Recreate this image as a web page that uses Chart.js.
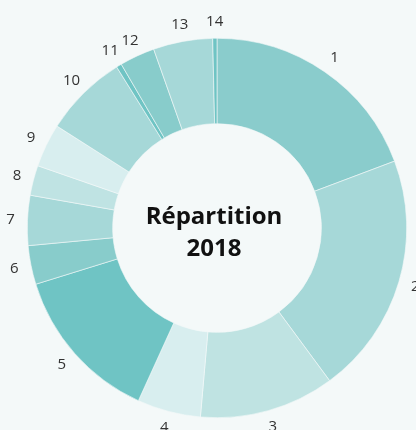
<!DOCTYPE html>
<html>
<head>
<meta charset="utf-8">
<script src="https://cdn.jsdelivr.net/npm/chart.js@4.4.1/dist/chart.umd.min.js"></script>
<style>
  html, body { margin: 0; padding: 0; background: #f4f9f9; }
  #wrap { width: 416px; height: 430px; }
</style>
</head>
<body>
<div id="wrap"><canvas id="repChart" width="416" height="430"></canvas></div>
<script>
// Data (share of the ring, in %)
const categories = ['1', '2', '3', '4', '5', '6', '7', '8', '9', '10', '11', '12', '13', '14'];
const shares = [19.25, 20.6, 11.5, 5.4, 13.4, 3.3, 4.25, 2.55, 3.7, 7.1, 0.45, 3.0, 5.05, 0.36];
const sliceColors = [
  '#8acccc', '#a6d8d8', '#bfe3e2', '#d8eeef', '#6fc4c4', '#88cccb', '#a6d8d8',
  '#bfe3e3', '#d8eeef', '#a6d8d8', '#6fc4c4', '#88cccb', '#a6d8d8', '#6fc4c4'
];
const centerLines = ['Répartition', '2018'];

// Category number drawn just outside each slice
const outsideLabels = {
  id: 'outsideLabels',
  afterDatasetsDraw(chart) {
    const ctx = chart.ctx;
    const arcs = chart.getDatasetMeta(0).data;
    ctx.save();
    ctx.font = '15px "Open Sans", "Noto Sans", sans-serif';
    ctx.fillStyle = '#333333';
    ctx.textAlign = 'center';
    ctx.textBaseline = 'middle';
    arcs.forEach((arc, i) => {
      const mid = (arc.startAngle + arc.endAngle) / 2;
      const r = arc.outerRadius + 17;
      ctx.fillText(chart.data.labels[i], arc.x + Math.cos(mid) * r, arc.y + Math.sin(mid) * r);
    });
    ctx.restore();
  }
};

// Bold title in the hole
const centerText = {
  id: 'centerText',
  afterDatasetsDraw(chart) {
    const ctx = chart.ctx;
    const arc = chart.getDatasetMeta(0).data[0];
    ctx.save();
    ctx.font = 'bold 24px "Open Sans", "Noto Sans", sans-serif';
    ctx.fillStyle = '#111111';
    ctx.textAlign = 'center';
    ctx.textBaseline = 'middle';
    ctx.fillText(centerLines[0], arc.x - 3, arc.y - 11);
    ctx.fillText(centerLines[1], arc.x - 3, arc.y + 21);
    ctx.restore();
  }
};

const ctx = document.getElementById('repChart').getContext('2d');
const repChart = new Chart(ctx, {
  type: 'doughnut',
  data: {
    labels: categories,
    datasets: [{
      data: shares,
      backgroundColor: sliceColors,
      borderColor: '#f4f9f9',
      borderWidth: 0.6
    }]
  },
  options: {
    responsive: false,
    animation: false,
    cutout: '55%',
    layout: {
      padding: { left: 27, right: 9, top: 38, bottom: 12 }
    },
    plugins: {
      legend: { display: false },
      tooltip: { enabled: false }
    }
  },
  plugins: [outsideLabels, centerText]
});
</script>
</body>
</html>
